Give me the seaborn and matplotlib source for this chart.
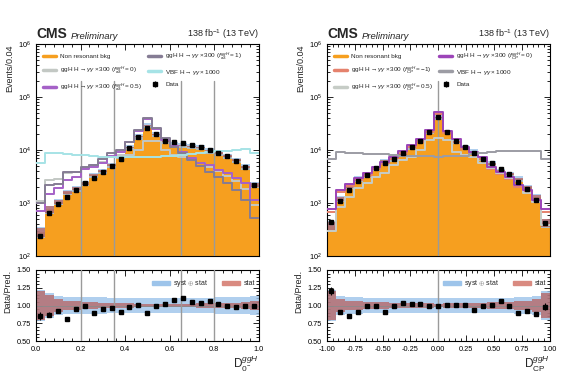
import numpy as np
import matplotlib
matplotlib.use("Agg")
import matplotlib.pyplot as plt
import seaborn as sns
from matplotlib.lines import Line2D
from matplotlib.patches import Patch
from matplotlib.ticker import MultipleLocator, FormatStrFormatter, LogLocator

# --- left: D_0- (ggH), 25 bins in [0, 1]
left_range = (0.0, 1.0)
left_data = [242, 656, 955, 1280, 1760, 2350, 3000, 3800, 5000, 6900, 10900, 17900, 26000,
             19900, 15000, 14000, 13300, 12400, 11600, 10200, 8970, 7700, 6280, 4780, 2190]
left_bkg = [283, 754, 1040, 1580, 1850, 2350, 3370, 4000, 5210, 7580, 11180, 17720, 28900,
            19900, 14630, 12960, 12040, 11810, 11260, 9620, 8750, 7700, 6380, 4780, 2190]
left_f0 = [1100, 2700, 2800, 3700, 3900, 4600, 5100, 6000, 7300, 8200, 8000, 10000, 14500,
           14500, 9900, 8200, 7400, 6600, 5600, 4700, 4000, 3300, 2600, 1800, 900]
left_f05 = [716, 1480, 1920, 2720, 3100, 4400, 4800, 5700, 7700, 9200, 14100, 22800, 38000,
            25000, 15400, 11900, 9200, 7100, 5700, 5200, 4200, 3700, 3000, 2400, 1140]
left_f1 = [1000, 2200, 2300, 3800, 3800, 4800, 5200, 6700, 8800, 10000, 14100, 23800, 40000,
           26000, 16800, 11300, 8600, 6500, 5000, 3800, 3100, 2400, 1750, 1140, 520]
left_vbf = [5800, 8700, 8600, 8400, 8100, 7900, 7700, 7500, 7400, 7300, 7300, 7300, 7400,
            7500, 7600, 7800, 8100, 8400, 8800, 9200, 9400, 9600, 9800, 10400, 8800]
left_stat = [0.21, 0.15, 0.09, 0.07, 0.06, 0.05, 0.045, 0.04, 0.035, 0.03, 0.03, 0.025, 0.02,
             0.02, 0.02, 0.02, 0.025, 0.025, 0.03, 0.03, 0.035, 0.035, 0.04, 0.05, 0.07]
left_tot = [0.22, 0.17, 0.13, 0.12, 0.12, 0.12, 0.115, 0.115, 0.11, 0.11, 0.11, 0.11, 0.11,
            0.11, 0.11, 0.11, 0.11, 0.11, 0.11, 0.11, 0.115, 0.115, 0.12, 0.12, 0.13]
left_cuts = [0.2, 0.35, 0.65, 0.8]

# --- right: D_CP (ggH), 25 bins in [-1, 1]
right_range = (-1.0, 1.0)
right_data = [445, 1100, 1780, 2610, 3370, 4480, 5600, 6760, 8900, 11300, 15000, 22000, 41400,
              22100, 14800, 11300, 8700, 6900, 5600, 4300, 3480, 2520, 1830, 1140, 414]
right_bkg = [368, 1209, 2094, 2868, 3370, 4480, 6154, 6760, 8558, 11078, 14778, 22000, 41400,
             21881, 14653, 11188, 9255, 6900, 5545, 4019, 3480, 2831, 1989, 1295, 422]
right_fm1 = [690, 1600, 2080, 2660, 3300, 4400, 5500, 6800, 8800, 11300, 14400, 21600, 47900,
             21000, 14400, 10500, 8500, 6800, 4400, 3550, 2850, 1980, 1600, 1040, 690]
right_f05 = [290, 850, 1310, 1900, 2420, 3140, 3730, 5200, 6500, 7500, 10000, 15400, 16700,
             15400, 9300, 8000, 7500, 5600, 4500, 3640, 2930, 2180, 1520, 1060, 385]
right_f0 = [760, 1760, 2290, 2930, 3640, 4840, 6030, 7500, 9700, 12400, 15800, 23800, 52700,
            23100, 15800, 11500, 9300, 7500, 4840, 3900, 3140, 2180, 1760, 1140, 760]
right_vbf = [6900, 9300, 8900, 8900, 8400, 8400, 8400, 8000, 7700, 7700, 7600, 7600, 7500,
             7600, 7700, 7800, 8300, 8900, 9300, 9700, 9700, 9700, 9700, 9500, 6900]
right_stat = [0.2, 0.09, 0.07, 0.06, 0.05, 0.05, 0.045, 0.04, 0.04, 0.035, 0.03, 0.03, 0.025,
              0.03, 0.03, 0.035, 0.04, 0.04, 0.045, 0.05, 0.05, 0.06, 0.07, 0.09, 0.18]
right_tot = [0.22, 0.13, 0.12, 0.12, 0.11, 0.11, 0.11, 0.105, 0.105, 0.1, 0.1, 0.1, 0.1,
             0.1, 0.1, 0.1, 0.105, 0.105, 0.11, 0.11, 0.11, 0.12, 0.12, 0.13, 0.2]
right_cuts = [0.0]

ORANGE = "#f69f1f"
BLUE = "#9dc4ea"
RED = "#b8473e"

sns.set_theme(style="ticks")
plt.rcParams["font.family"] = ["Liberation Sans", "DejaVu Sans"]
plt.rcParams["mathtext.fontset"] = "custom"
plt.rcParams["mathtext.rm"] = "Liberation Sans"
plt.rcParams["mathtext.it"] = "Liberation Sans:italic"
plt.rcParams["mathtext.bf"] = "Liberation Sans:bold"

fig = plt.figure(figsize=(5.8, 3.82), dpi=100)


def style_axes(ax):
    ax.tick_params(which="both", direction="in", top=True, right=True, labelsize=5.3,
                   colors="black", width=0.6)
    ax.tick_params(which="major", length=4)
    ax.tick_params(which="minor", length=2)
    for sp in ax.spines.values():
        sp.set_color("black")
        sp.set_linewidth(0.8)


def draw_panel(x0, xr, data, bkg, signals, stat, tot, cuts, major, minor, xfmt, xlabel):
    nb = len(data)
    edges = np.linspace(xr[0], xr[1], nb + 1)
    centers = 0.5 * (edges[1:] + edges[:-1])
    data = np.array(data, float)
    bkg = np.array(bkg, float)
    stat = np.array(stat)
    tot = np.array(tot)

    ax = fig.add_axes([x0 / 580, 1 - 256 / 382, 222.5 / 580, 212 / 382])
    rx = fig.add_axes([x0 / 580, 1 - 341 / 382, 222.5 / 580, 71 / 382])

    # background
    sns.histplot(x=centers, weights=bkg, bins=nb, binrange=xr, element="step", fill=True,
                 color=ORANGE, alpha=1, linewidth=0, ax=ax)
    ax.set_yscale("log")
    ax.fill_between(edges, np.append(bkg * (1 - tot), bkg[-1] * (1 - tot[-1])),
                    np.append(bkg * (1 + tot), bkg[-1] * (1 + tot[-1])),
                    step="post", color=BLUE, lw=0, alpha=0.8)
    ax.fill_between(edges, np.append(bkg * (1 - stat), bkg[-1] * (1 - stat[-1])),
                    np.append(bkg * (1 + stat), bkg[-1] * (1 + stat[-1])),
                    step="post", color=RED, lw=0, alpha=0.6)
    for c in cuts:
        ax.plot([c, c], [1e2, 2e5], color="#9a9a9a", lw=1, zorder=3)
        rx.axvline(c, color="#9a9a9a", lw=1, zorder=3)

    handles = [Line2D([0], [0], color=ORANGE, lw=2.5)]
    labels = ["Non resonant bkg"]
    for vals, col, lab in signals:
        sns.histplot(x=centers, weights=vals, bins=nb, binrange=xr, element="step",
                     fill=False, color=col, linewidth=1.4, ax=ax, zorder=4)
        handles.append(Line2D([0], [0], color=col, lw=2.5))
        labels.append(lab)
    dh = ax.errorbar(centers, data, yerr=np.sqrt(data), fmt="s", ms=2.4, color="black",
                     elinewidth=0.8, capsize=0, zorder=6)
    handles.append(dh)
    labels.append("Data")
    ax.legend(handles, labels, ncol=2, frameon=False, fontsize=4.6, loc="upper left",
              bbox_to_anchor=(0.01, 0.99), handlelength=2.1, labelspacing=0.85,
              columnspacing=0.9, handletextpad=0.6, borderaxespad=0.3)

    ax.set_xlim(*xr)
    ax.set_ylim(1e2, 1e6)
    ax.yaxis.set_major_locator(LogLocator(base=10, numticks=10))
    ax.yaxis.set_minor_locator(LogLocator(base=10, subs=np.arange(2, 10), numticks=10))
    ax.xaxis.set_major_locator(MultipleLocator(major))
    ax.xaxis.set_minor_locator(MultipleLocator(minor))
    ax.set_xticklabels([])
    ax.set_xlabel("")
    ax.set_ylabel("Events/0.04", fontsize=6.5, loc="top", labelpad=3)
    style_axes(ax)

    ax.text(0, 1.012, "CMS", transform=ax.transAxes, fontsize=10, weight="bold",
            ha="left", va="bottom")
    ax.text(0.155, 1.012, "Preliminary", transform=ax.transAxes, fontsize=6.8,
            style="italic", ha="left", va="bottom")
    ax.text(1, 1.012, r"138 fb$^{-1}$ (13 TeV)", transform=ax.transAxes, fontsize=6.5,
            ha="right", va="bottom")

    # ratio
    rx.fill_between(edges, 1 - np.append(tot, tot[-1]), 1 + np.append(tot, tot[-1]),
                    step="post", color=BLUE, lw=0, alpha=0.8)
    rx.fill_between(edges, 1 - np.append(stat, stat[-1]), 1 + np.append(stat, stat[-1]),
                    step="post", color=RED, lw=0, alpha=0.6)
    rx.axhline(1.0, color="#8a8a8a", lw=0.6)
    rx.errorbar(centers, data / bkg, yerr=np.sqrt(data) / bkg, fmt="s", ms=2.4,
                color="black", elinewidth=0.8, capsize=0, zorder=6)
    rx.legend([Patch(color=BLUE), Patch(color="#d98a80")],
              [r"syst $\oplus$ stat", "stat"], ncol=2, frameon=False, fontsize=5.0,
              loc="upper right", bbox_to_anchor=(1.012, 0.97), handlelength=2.6,
              columnspacing=2.0, handletextpad=0.5)
    rx.set_xlim(*xr)
    rx.set_ylim(0.5, 1.5)
    rx.yaxis.set_major_locator(MultipleLocator(0.25))
    rx.yaxis.set_minor_locator(MultipleLocator(0.05))
    rx.yaxis.set_major_formatter(FormatStrFormatter("%.2f"))
    rx.xaxis.set_major_locator(MultipleLocator(major))
    rx.xaxis.set_minor_locator(MultipleLocator(minor))
    rx.xaxis.set_major_formatter(FormatStrFormatter(xfmt))
    rx.set_ylabel("Data/Pred.", fontsize=6.5, loc="top", labelpad=3)
    rx.set_xlabel(xlabel, fontsize=8.5, loc="right", labelpad=1)
    style_axes(rx)
    return ax, rx


left_signals = [
    (left_f0, "#c3c8c4", r"ggH H$\rightarrow\gamma\gamma\times$300 ($f_{a3}^{ggH}=0$)"),
    (left_f05, "#a561c7", r"ggH H$\rightarrow\gamma\gamma\times$300 ($f_{a3}^{ggH}=0.5$)"),
    (left_f1, "#857c94", r"ggH H$\rightarrow\gamma\gamma\times$300 ($f_{a3}^{ggH}=1$)"),
    (left_vbf, "#a6e3e6", r"VBF H$\rightarrow\gamma\gamma\times$1000"),
]
right_signals = [
    (right_fm1, "#e5826d", r"ggH H$\rightarrow\gamma\gamma\times$300 ($f_{CP}^{ggH}=-1$)"),
    (right_f05, "#c6ccc6", r"ggH H$\rightarrow\gamma\gamma\times$300 ($f_{CP}^{ggH}=0.5$)"),
    (right_f0, "#9c44b8", r"ggH H$\rightarrow\gamma\gamma\times$300 ($f_{CP}^{ggH}=0$)"),
    (right_vbf, "#9c9ca4", r"VBF H$\rightarrow\gamma\gamma\times$1000"),
]

draw_panel(36, left_range, left_data, left_bkg, left_signals, left_stat, left_tot,
           left_cuts, 0.2, 0.04, "%.1f", r"$\mathrm{D}_{0^{-}}^{ggH}$")
draw_panel(327, right_range, right_data, right_bkg, right_signals, right_stat, right_tot,
           right_cuts, 0.25, 0.05, "%.2f", r"$\mathrm{D}_{\mathrm{CP}}^{ggH}$")

fig.savefig("out.png", dpi=100)
